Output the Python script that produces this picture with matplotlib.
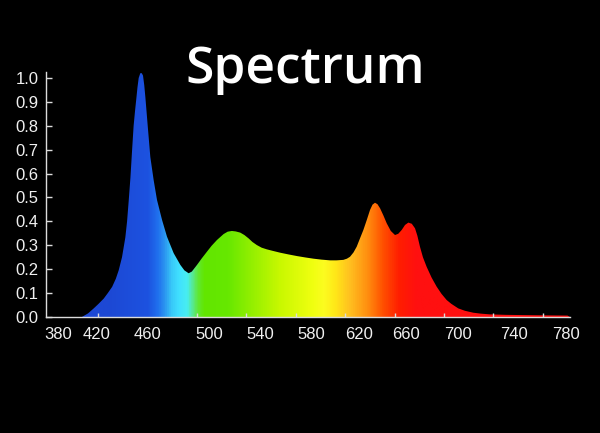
import numpy as np
import matplotlib
matplotlib.use("Agg")
import matplotlib.pyplot as plt
from matplotlib.colors import LinearSegmentedColormap

# ---- data ----
wavelength = [378, 400, 407, 412, 416.6, 420.5, 424.7, 428, 431.5, 434.5, 436.8, 439.5,
              442.2, 443.6, 444.9, 446.3, 447.6, 448.9, 450, 451.1, 452, 453, 454.3, 455.5,
              456.5, 457.5, 458.4, 460.3, 462.4, 465.1, 467.8, 471.9, 475.9, 481.3, 486.7,
              490, 493.4, 496, 500.2, 504, 508.2, 512, 516.3, 521.7, 525, 528.4, 531.5,
              535.2, 538.5, 541.9, 545, 548.6, 552.5, 556.7, 562, 567.5, 574, 581, 588,
              594.4, 601, 607.9, 613, 618.6, 621.5, 624, 626.8, 629.4, 632, 634.8, 637.5,
              640.2, 642.2, 644.2, 646.2, 648.3, 651, 653.7, 657, 660.4, 663, 665.8, 668.5,
              671.2, 674, 676.6, 678.5, 680.6, 683, 686, 690, 694.1, 698, 702.2, 706,
              711.6, 717, 723.7, 730, 737.2, 750, 764, 780, 800, 802]
intensity = [0.0, 0.0, 0.0, 0.015, 0.036, 0.055, 0.077, 0.10, 0.126, 0.16, 0.195, 0.25,
             0.333, 0.40, 0.485, 0.582, 0.693, 0.80, 0.86, 0.914, 0.96, 1.00, 1.02, 1.02,
             1.01, 0.97, 0.92, 0.80, 0.67, 0.573, 0.49, 0.406, 0.336, 0.267, 0.218,
             0.195, 0.183, 0.19, 0.218, 0.245, 0.273, 0.298, 0.322, 0.347, 0.357, 0.36, 0.358,
             0.353, 0.343, 0.329, 0.314, 0.301, 0.29, 0.283, 0.276, 0.269, 0.262, 0.255, 0.249,
             0.244, 0.240, 0.237, 0.237, 0.239, 0.244, 0.252, 0.27, 0.294, 0.328, 0.364, 0.405,
             0.448, 0.47, 0.478, 0.472, 0.455, 0.425, 0.392, 0.36, 0.343, 0.348, 0.364, 0.385,
             0.395, 0.39, 0.371, 0.34, 0.294, 0.25, 0.21, 0.165, 0.127, 0.097, 0.071, 0.055,
             0.036, 0.026, 0.018, 0.014, 0.011, 0.009, 0.008, 0.007, 0.006, 0.0]

y_ticks = [0.0, 0.1, 0.2, 0.3, 0.4, 0.5, 0.6, 0.7, 0.8, 0.9, 1.0]
y_tick_labels = ["0.0", "0.1", "0.2", "0.3", "0.4", "0.5", "0.6", "0.7", "0.8", "0.9", "1.0"]
x_tick_marks = [420, 460, 500, 540, 580, 620, 660, 700, 740, 780]
x_label_positions = [388, 419, 460, 510, 551, 593, 631, 669, 711, 757, 799]
x_tick_labels = ["380", "420", "460", "500", "540", "580", "620", "660", "700", "740", "780"]

title = "Spectrum"

# spectral colour stops (nm -> colour)
stop_nm = [378, 428, 460, 468, 473, 479, 485, 492, 497, 501, 506, 525, 541, 567, 594,
           603, 612, 624, 638, 651, 664, 678, 802]
stop_colors = ["#1d48d4", "#1d48d4", "#1c52e0", "#2070ee", "#2a90f0", "#38c8f8", "#40e0ff",
               "#48eef0", "#5ae880", "#60e830", "#62e600", "#66e800", "#8cee00", "#c8f800",
               "#f0ff10", "#fcfc20", "#ffe818", "#ffc020", "#ff9010", "#ff5000", "#ff1e00",
               "#ff1010", "#ff1010"]

XMIN, XMAX = 378, 802
YMAX = 1.025

fig = plt.figure(figsize=(6, 4.33), dpi=100, facecolor="black")
ax = fig.add_axes([46 / 600, 116 / 433, 524 / 600, 245 / 433])
ax.set_facecolor("black")
ax.set_xlim(XMIN, XMAX)
ax.set_ylim(0, YMAX)

poly = ax.fill_between(wavelength, intensity, 0, facecolor="none", edgecolor="none", lw=0)

norm = plt.Normalize(XMIN, XMAX)
cmap = LinearSegmentedColormap.from_list(
    "spec", list(zip([float(norm(v)) for v in stop_nm], stop_colors)))
grad = np.linspace(XMIN, XMAX, 1200)[None, :]
im = ax.imshow(grad, extent=(XMIN, XMAX, 0, YMAX), aspect="auto", cmap=cmap, norm=norm,
               origin="lower", interpolation="bilinear")
im.set_clip_path(poly.get_paths()[0], transform=ax.transData)

for s in ["top", "right"]:
    ax.spines[s].set_visible(False)
for s in ["left", "bottom"]:
    ax.spines[s].set_color("#dcdcdc")
    ax.spines[s].set_linewidth(1.0)
    ax.spines[s].set_zorder(5)

ax.set_yticks(y_ticks, y_tick_labels)
ax.set_xticks(x_label_positions, x_tick_labels)
ax.set_xticks(x_tick_marks, minor=True)

for lab in ax.get_xticklabels() + ax.get_yticklabels():
    lab.set_fontfamily(["Liberation Sans", "DejaVu Sans"])
    lab.set_fontsize(12)
    lab.set_color("#f0f0f0")

ax.tick_params(axis="x", which="major", length=0, pad=7)
ax.tick_params(axis="x", which="minor", direction="in", length=3, width=1, color="#dcdcdc")
ax.tick_params(axis="y", which="major", direction="in", length=4, width=1, color="#dcdcdc", pad=5.5)

fig.text(305 / 600, (433 - 83) / 433, title, ha="center", va="baseline", fontsize=37,
         color="white", family=["Open Sans", "DejaVu Sans"], weight="semibold")

fig.savefig("out.png", dpi=100, facecolor="black")
